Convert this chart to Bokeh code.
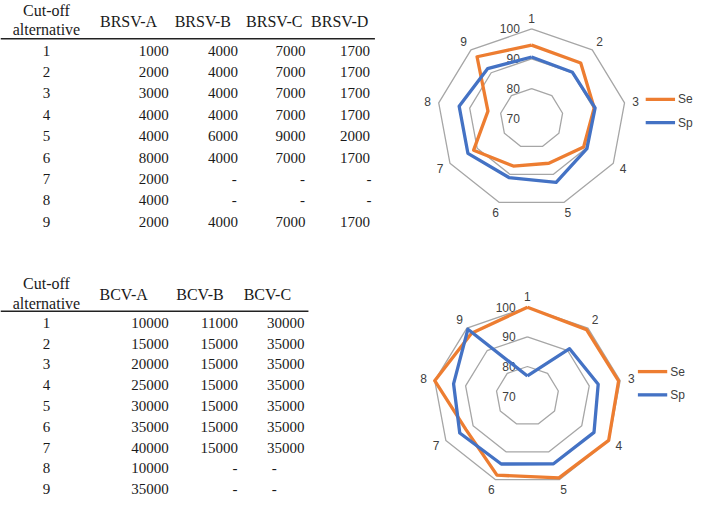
import math
from bokeh.plotting import figure
from bokeh.models import Range1d
from bokeh.core.properties import value
from bokeh.embed import file_html
from bokeh.resources import INLINE

# ---------------- data ----------------
alternatives = ["1", "2", "3", "4", "5", "6", "7", "8", "9"]

brsv_headers = ["BRSV-A", "BRSV-B", "BRSV-C", "BRSV-D"]
brsv_a = [1000, 2000, 3000, 4000, 4000, 8000, 2000, 4000, 2000]
brsv_b = [4000, 4000, 4000, 4000, 6000, 4000, None, None, 4000]
brsv_c = [7000, 7000, 7000, 7000, 9000, 7000, None, None, 7000]
brsv_d = [1700, 1700, 1700, 1700, 2000, 1700, None, None, 1700]

bcv_headers = ["BCV-A", "BCV-B", "BCV-C"]
bcv_a = [10000, 15000, 20000, 25000, 30000, 35000, 40000, 10000, 35000]
bcv_b = [11000, 15000, 15000, 15000, 15000, 15000, 15000, None, None]
bcv_c = [30000, 35000, 35000, 35000, 35000, 35000, 35000, None, None]

ring_values = [70, 80, 90, 100]
series_names = ["Se", "Sp"]
brsv_se = [94.6, 94.3, 90.2, 89.1, 86.0, 87.0, 91.3, 84.1, 97.0]
brsv_sp = [90.6, 90.2, 90.5, 90.3, 92.8, 91.1, 93.4, 93.4, 91.8]
bcv_se = [100.0, 99.3, 99.5, 99.9, 99.4, 98.4, 92.6, 100.0, 97.7]
bcv_sp = [76.8, 90.9, 92.9, 94.5, 94.3, 94.4, 94.9, 93.9, 99.5]

# ---------------- styling ----------------
SERIF = value("Liberation Serif")
SANS = value("Liberation Sans")
TXT = "#1a1a1a"
ORANGE = "#ed7d31"
BLUE = "#4472c4"
GREY = "#a6a6a6"
LABEL = "#404040"

p = figure(width=698, height=499, x_range=Range1d(0, 714), y_range=Range1d(515, 0),
           output_backend="svg", toolbar_location=None, min_border=0)
p.axis.visible = False
p.grid.visible = False
p.outline_line_color = None
p.background_fill_color = "white"
p.border_fill_color = "white"


def draw_table(headers, cols, hdr_x, val_x, dash_x, y_cut, y_alt, y_hdr, y_rule, rule_end, y0, dy):
    p.text(x=[47, 47], y=[y_cut, y_alt], text=["Cut-off", "alternative"],
           text_font=SERIF, text_font_size="16px", text_align="center",
           text_baseline="middle", text_color=TXT)
    p.text(x=hdr_x, y=[y_hdr] * len(headers), text=headers,
           text_font=SERIF, text_font_size="16px", text_align="center",
           text_baseline="middle", text_color=TXT)
    p.segment(x0=[0], y0=[y_rule], x1=[rule_end], y1=[y_rule], line_color="#222222", line_width=1.6)
    ys = [y0 + dy * i for i in range(len(alternatives))]
    p.text(x=[47] * len(alternatives), y=ys, text=alternatives,
           text_font=SERIF, text_font_size="15px", text_align="center",
           text_baseline="middle", text_color=TXT)
    for col, vx, dx in zip(cols, val_x, dash_x):
        vxs, vys, vts, dxs, dys = [], [], [], [], []
        for v, yy in zip(col, ys):
            if v is None:
                dxs.append(dx); dys.append(yy)
            else:
                vxs.append(vx); vys.append(yy); vts.append(str(v))
        p.text(x=vxs, y=vys, text=vts, text_font=SERIF, text_font_size="15px",
               text_align="right", text_baseline="middle", text_color=TXT)
        if dxs:
            p.text(x=dxs, y=dys, text=["-"] * len(dxs), text_font=SERIF, text_font_size="15px",
                   text_align="center", text_baseline="middle", text_color=TXT)


draw_table(brsv_headers, [brsv_a, brsv_b, brsv_c, brsv_d],
           hdr_x=[131, 207, 280, 347], val_x=[172, 243, 312, 378], dash_x=[0, 239, 309, 377],
           y_cut=10, y_alt=29.5, y_hdr=21.7, y_rule=39.5, rule_end=383, y0=51.7, dy=22.1)
draw_table(bcv_headers, [bcv_a, bcv_b, bcv_c],
           hdr_x=[126, 204, 273], val_x=[172, 243, 311], dash_x=[0, 240, 280],
           y_cut=291.7, y_alt=312.7, y_hdr=303, y_rule=320.7, rule_end=315, y0=332.5, dy=21.5)


def radar(cx, cy, rx, ry, se, sp, leg_x, leg_y):
    vmin, vmax = ring_values[0], ring_values[-1]
    n = len(alternatives)
    ang = [2 * math.pi * i / n for i in range(n)]

    def pts(vals):
        xs, ys = [], []
        for v, a in zip(vals, ang):
            r = (v - vmin) / (vmax - vmin)
            xs.append(cx + r * rx * math.sin(a))
            ys.append(cy - r * ry * math.cos(a))
        return xs + xs[:1], ys + ys[:1]

    for rv in ring_values[1:]:
        xs, ys = pts([rv] * n)
        p.line(xs, ys, line_color=GREY, line_width=1.3)
    # ring labels
    p.text(x=[cx - 12] * len(ring_values),
           y=[cy - (rv - vmin) / (vmax - vmin) * ry for rv in ring_values],
           text=[str(rv) for rv in ring_values], text_font=SANS, text_font_size="12px",
           text_align="right", text_baseline="middle", text_color=LABEL)
    # category labels
    lx, ly = pts([vmin + 1.12 * (vmax - vmin)] * n)
    p.text(x=lx[:-1], y=ly[:-1], text=alternatives, text_font=SANS, text_font_size="12px",
           text_align="center", text_baseline="middle", text_color=LABEL)
    for vals, col in ((se, ORANGE), (sp, BLUE)):
        xs, ys = pts(vals)
        p.line(xs, ys, line_color=col, line_width=3.3, line_join="round")
    # legend
    for k, (name, col) in enumerate(zip(series_names, (ORANGE, BLUE))):
        yy = leg_y + 24 * k
        p.segment(x0=[leg_x], y0=[yy], x1=[leg_x + 30], y1=[yy], line_color=col, line_width=3.3)
        p.text(x=[leg_x + 33], y=[yy], text=[name], text_font=SANS, text_font_size="12px",
               text_align="left", text_baseline="middle", text_color=LABEL)


radar(543.3, 121.7, 96.5, 92.3, brsv_se, brsv_sp, 660, 102)
radar(539.0, 408.3, 96.3, 91.7, bcv_se, bcv_sp, 652, 383)

open("out.html", "w").write(file_html(p, INLINE))
